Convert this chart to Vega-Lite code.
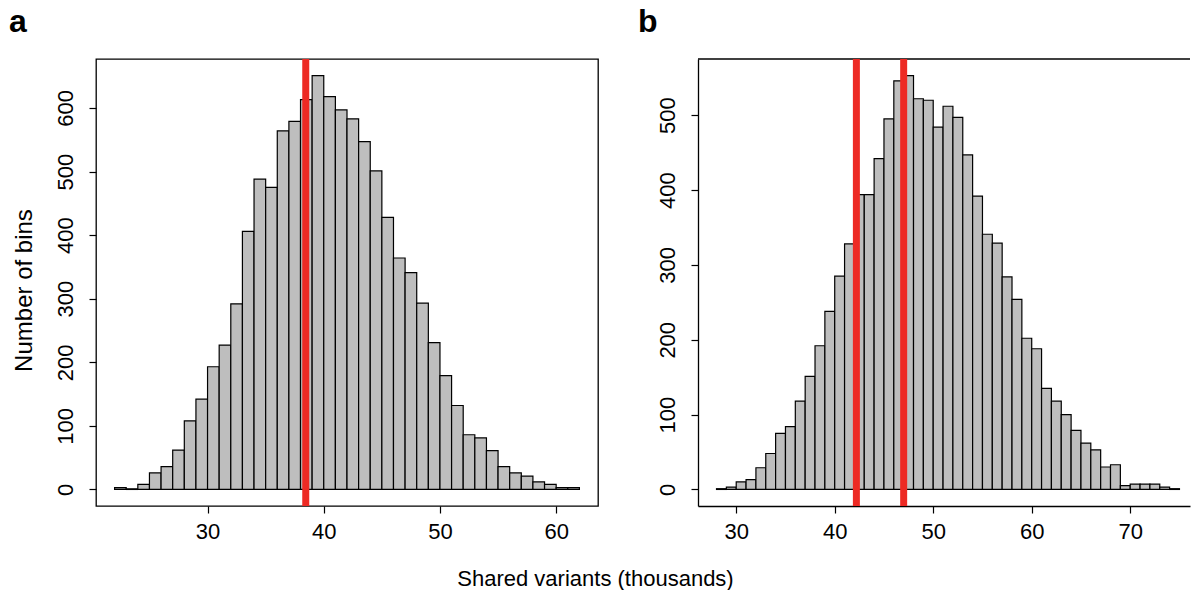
{
  "$schema": "https://vega.github.io/schema/vega-lite/v6.json",
  "background": "white",
  "padding": {"left": 8, "top": 4, "right": 0, "bottom": 0},
  "title": {"text": "Shared variants (thousands)", "orient": "bottom", "anchor": "middle", "frame": "bounds", "font": "Liberation Sans", "fontSize": 22, "fontWeight": "normal", "color": "black", "baseline": "alphabetic", "offset": 43, "dx": -4},
  "config": {
    "font": "Liberation Sans",
    "view": {"stroke": "black", "strokeWidth": 1.3},
    "axis": {"domain": false, "grid": false, "tickColor": "black", "tickWidth": 1.2, "tickSize": 7, "labelColor": "black", "labelFontSize": 22, "labelFont": "Liberation Sans", "titleColor": "black", "titleFontSize": 24, "titleFontWeight": "normal", "titleFont": "Liberation Sans", "domainColor": "black", "domainWidth": 1.3},
    "axisX": {"labelPadding": 8},
    "axisY": {"labelAngle": -90, "labelAlign": "center", "labelBaseline": "alphabetic", "labelPadding": 17}
  },
  "datasets": {
    "a": [
      {"bin_start": 22, "bin_end": 23, "count": 3},
      {"bin_start": 23, "bin_end": 24, "count": 1},
      {"bin_start": 24, "bin_end": 25, "count": 8},
      {"bin_start": 25, "bin_end": 26, "count": 26},
      {"bin_start": 26, "bin_end": 27, "count": 36},
      {"bin_start": 27, "bin_end": 28, "count": 62},
      {"bin_start": 28, "bin_end": 29, "count": 108},
      {"bin_start": 29, "bin_end": 30, "count": 142},
      {"bin_start": 30, "bin_end": 31, "count": 193},
      {"bin_start": 31, "bin_end": 32, "count": 227},
      {"bin_start": 32, "bin_end": 33, "count": 292},
      {"bin_start": 33, "bin_end": 34, "count": 406},
      {"bin_start": 34, "bin_end": 35, "count": 488},
      {"bin_start": 35, "bin_end": 36, "count": 475},
      {"bin_start": 36, "bin_end": 37, "count": 564},
      {"bin_start": 37, "bin_end": 38, "count": 579},
      {"bin_start": 38, "bin_end": 39, "count": 613},
      {"bin_start": 39, "bin_end": 40, "count": 651},
      {"bin_start": 40, "bin_end": 41, "count": 618},
      {"bin_start": 41, "bin_end": 42, "count": 597},
      {"bin_start": 42, "bin_end": 43, "count": 583},
      {"bin_start": 43, "bin_end": 44, "count": 547},
      {"bin_start": 44, "bin_end": 45, "count": 501},
      {"bin_start": 45, "bin_end": 46, "count": 428},
      {"bin_start": 46, "bin_end": 47, "count": 364},
      {"bin_start": 47, "bin_end": 48, "count": 341},
      {"bin_start": 48, "bin_end": 49, "count": 293},
      {"bin_start": 49, "bin_end": 50, "count": 231},
      {"bin_start": 50, "bin_end": 51, "count": 179},
      {"bin_start": 51, "bin_end": 52, "count": 132},
      {"bin_start": 52, "bin_end": 53, "count": 86},
      {"bin_start": 53, "bin_end": 54, "count": 81},
      {"bin_start": 54, "bin_end": 55, "count": 61},
      {"bin_start": 55, "bin_end": 56, "count": 36},
      {"bin_start": 56, "bin_end": 57, "count": 26},
      {"bin_start": 57, "bin_end": 58, "count": 21},
      {"bin_start": 58, "bin_end": 59, "count": 12},
      {"bin_start": 59, "bin_end": 60, "count": 8},
      {"bin_start": 60, "bin_end": 61, "count": 3},
      {"bin_start": 61, "bin_end": 62, "count": 3}
    ],
    "b": [
      {"bin_start": 28, "bin_end": 29, "count": 1},
      {"bin_start": 29, "bin_end": 30, "count": 3},
      {"bin_start": 30, "bin_end": 31, "count": 10},
      {"bin_start": 31, "bin_end": 32, "count": 13},
      {"bin_start": 32, "bin_end": 33, "count": 29},
      {"bin_start": 33, "bin_end": 34, "count": 48},
      {"bin_start": 34, "bin_end": 35, "count": 75},
      {"bin_start": 35, "bin_end": 36, "count": 84},
      {"bin_start": 36, "bin_end": 37, "count": 118},
      {"bin_start": 37, "bin_end": 38, "count": 151},
      {"bin_start": 38, "bin_end": 39, "count": 192},
      {"bin_start": 39, "bin_end": 40, "count": 238},
      {"bin_start": 40, "bin_end": 41, "count": 285},
      {"bin_start": 41, "bin_end": 42, "count": 328},
      {"bin_start": 42, "bin_end": 43, "count": 394},
      {"bin_start": 43, "bin_end": 44, "count": 394},
      {"bin_start": 44, "bin_end": 45, "count": 442},
      {"bin_start": 45, "bin_end": 46, "count": 495},
      {"bin_start": 46, "bin_end": 47, "count": 546},
      {"bin_start": 47, "bin_end": 48, "count": 553},
      {"bin_start": 48, "bin_end": 49, "count": 522},
      {"bin_start": 49, "bin_end": 50, "count": 520},
      {"bin_start": 50, "bin_end": 51, "count": 484},
      {"bin_start": 51, "bin_end": 52, "count": 512},
      {"bin_start": 52, "bin_end": 53, "count": 497},
      {"bin_start": 53, "bin_end": 54, "count": 447},
      {"bin_start": 54, "bin_end": 55, "count": 392},
      {"bin_start": 55, "bin_end": 56, "count": 341},
      {"bin_start": 56, "bin_end": 57, "count": 329},
      {"bin_start": 57, "bin_end": 58, "count": 284},
      {"bin_start": 58, "bin_end": 59, "count": 254},
      {"bin_start": 59, "bin_end": 60, "count": 202},
      {"bin_start": 60, "bin_end": 61, "count": 188},
      {"bin_start": 61, "bin_end": 62, "count": 135},
      {"bin_start": 62, "bin_end": 63, "count": 118},
      {"bin_start": 63, "bin_end": 64, "count": 100},
      {"bin_start": 64, "bin_end": 65, "count": 79},
      {"bin_start": 65, "bin_end": 66, "count": 62},
      {"bin_start": 66, "bin_end": 67, "count": 53},
      {"bin_start": 67, "bin_end": 68, "count": 30},
      {"bin_start": 68, "bin_end": 69, "count": 33},
      {"bin_start": 69, "bin_end": 70, "count": 5},
      {"bin_start": 70, "bin_end": 71, "count": 7},
      {"bin_start": 71, "bin_end": 72, "count": 7},
      {"bin_start": 72, "bin_end": 73, "count": 7},
      {"bin_start": 73, "bin_end": 74, "count": 3},
      {"bin_start": 74, "bin_end": 75, "count": 1}
    ],
    "lines_a": [{"x": 38.45}],
    "lines_b": [{"x": 42.2}, {"x": 47.0}],
    "frame_b": [{"y": 575.12}]
  },
  "spacing": 39,
  "hconcat": [
    {
      "width": 502,
      "height": 447,
      "title": {"text": "a", "anchor": "start", "frame": "group", "dx": -87, "offset": -8, "baseline": "alphabetic", "fontSize": 32, "fontWeight": "bold", "color": "black", "font": "Liberation Sans"},
      "layer": [
        {
          "data": {"name": "a"},
          "mark": {"type": "bar", "fill": "#bebebe", "stroke": "black", "strokeWidth": 1.2},
          "encoding": {
            "x": {"field": "bin_start", "type": "quantitative", "scale": {"domain": [20.4, 63.6], "nice": false, "zero": false}, "axis": {"values": [30, 40, 50, 60], "title": null}},
            "x2": {"field": "bin_end"},
            "y": {"field": "count", "type": "quantitative", "scale": {"domain": [-26.04, 677.04], "nice": false, "zero": false}, "axis": {"values": [0, 100, 200, 300, 400, 500, 600], "title": "Number of bins", "titleAngle": -90, "titleX": -65, "titleY": 231, "titleAlign": "center", "titleBaseline": "alphabetic"}},
            "y2": {"datum": 0}
          }
        },
        {
          "data": {"name": "lines_a"},
          "mark": {"type": "rule", "color": "#ed2a24", "strokeWidth": 7},
          "encoding": {"x": {"field": "x", "type": "quantitative"}}
        }
      ]
    },
    {
      "width": 492,
      "height": 447,
      "view": {"stroke": null},
      "title": {"text": "b", "anchor": "start", "frame": "group", "dx": -60, "offset": -8, "baseline": "alphabetic", "fontSize": 32, "fontWeight": "bold", "color": "black", "font": "Liberation Sans"},
      "layer": [
        {
          "data": {"name": "b"},
          "mark": {"type": "bar", "fill": "#bebebe", "stroke": "black", "strokeWidth": 1.2},
          "encoding": {
            "x": {"field": "bin_start", "type": "quantitative", "scale": {"domain": [26.12, 76.07], "nice": false, "zero": false}, "axis": {"values": [30, 40, 50, 60, 70], "title": null, "domain": true}},
            "x2": {"field": "bin_end"},
            "y": {"field": "count", "type": "quantitative", "scale": {"domain": [-22.12, 575.12], "nice": false, "zero": false}, "axis": {"values": [0, 100, 200, 300, 400, 500], "title": null, "domain": true}},
            "y2": {"datum": 0}
          }
        },
        {
          "data": {"name": "frame_b"},
          "mark": {"type": "rule", "color": "black", "strokeWidth": 1.3},
          "encoding": {"y": {"field": "y", "type": "quantitative"}}
        },
        {
          "data": {"name": "lines_b"},
          "mark": {"type": "rule", "color": "#ed2a24", "strokeWidth": 7},
          "encoding": {"x": {"field": "x", "type": "quantitative"}}
        }
      ]
    }
  ]
}
